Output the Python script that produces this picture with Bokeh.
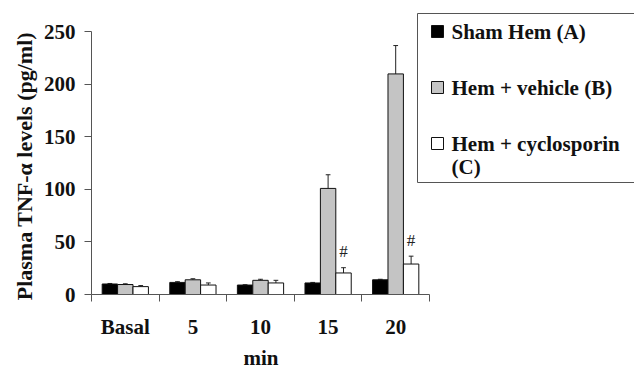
from bokeh.plotting import figure
from bokeh.models import Range1d, FixedTicker, Title
from bokeh.core.properties import value
from bokeh.embed import file_html
from bokeh.resources import INLINE

categories = ["Basal", "5", "10", "15", "20"]
sham = [10, 11.5, 9, 11, 14]
sham_err = [0.5, 0.7, 0.3, 0.5, 0.5]
vehicle = [9.5, 14, 13.5, 101, 210]
vehicle_err = [0.7, 1, 1, 13, 27]
cyclo = [7.5, 9, 11, 20.5, 29]
cyclo_err = [1, 2, 2.5, 5, 7.5]
signif = ["", "", "", "#", "#"]
series_names = ["Sham Hem (A)", "Hem + vehicle (B)", "Hem + cyclosporin"]
series_colors = ["#000000", "#c4c4c4", "#ffffff"]
y_ticks = [0, 50, 100, 150, 200, 250]
x_title = "min"
y_title = "Plasma TNF-α  levels (pg/ml)"

FONT = value("Liberation Serif")
W, H = 634, 371
frame_l, frame_t, frame_b = 91, 0, 294
px_per_cat = 67.6
px_per_unit = 262.6 / 250
x_end = (W - frame_l) / px_per_cat
y_end = (frame_b - frame_t) / px_per_unit

p = figure(width=W, height=H, output_backend="svg", toolbar_location=None,
           x_range=Range1d(0, x_end), y_range=Range1d(0, y_end),
           min_border_left=frame_l, min_border_right=0, min_border_top=0,
           min_border_bottom=H - frame_b)
p.outline_line_color = None
p.grid.visible = False
p.background_fill_color = "white"

# page pixel -> data coordinate helpers (layout only)
to_x = lambda px: (px - frame_l) / px_per_cat
to_y = lambda py: (frame_b - py) / px_per_unit

n = len(categories)
centers = [i + 0.5 for i in range(n)]
bw = 0.228
for k, (vals, errs, col) in enumerate(zip([sham, vehicle, cyclo],
                                          [sham_err, vehicle_err, cyclo_err],
                                          series_colors)):
    xs = [c + (k - 1) * bw for c in centers]
    tops = [v + e for v, e in zip(vals, errs)]
    p.segment(x0=xs, y0=vals, x1=xs, y1=tops, line_color="#222222", line_width=1)
    p.segment(x0=[x - 0.035 for x in xs], y0=tops, x1=[x + 0.035 for x in xs], y1=tops,
              line_color="#222222", line_width=1)
    p.vbar(x=xs, top=vals, bottom=0, width=bw, fill_color=col,
           line_color="#111111", line_width=1)

# significance marks
sx = [c + bw for c in centers]
sy = [v + e + 6 for v, e in zip(cyclo, cyclo_err)]
p.text(x=sx, y=sy, text=signif, text_font=FONT, text_font_size="17px",
       text_align="center", text_baseline="bottom", text_color="#222222")

# axes
p.xaxis.bounds = (0, n)
p.xaxis.ticker = FixedTicker(ticks=centers, minor_ticks=list(range(n + 1)))
p.xaxis.major_label_overrides = {c: lab for c, lab in zip(centers, categories)}
p.xaxis.major_tick_line_color = None
p.xaxis.minor_tick_line_color = "#555555"
p.xaxis.minor_tick_out = 7
p.xaxis.minor_tick_in = 0
p.xaxis.axis_line_color = "#555555"
p.xaxis.major_label_standoff = 13

p.yaxis.bounds = (0, 250)
p.yaxis.ticker = FixedTicker(ticks=y_ticks, minor_ticks=[])
p.yaxis.major_tick_out = 7
p.yaxis.major_tick_in = 0
p.yaxis.major_tick_line_color = "#555555"
p.yaxis.axis_line_color = "#555555"
p.yaxis.major_label_standoff = 9

for ax in [p.xaxis, p.yaxis]:
    ax.major_label_text_font = "Liberation Serif"
    ax.major_label_text_font_style = "bold"
    ax.major_label_text_font_size = "21px"
    ax.major_label_text_color = "#111111"
p.yaxis.major_label_orientation = "horizontal"

# axis titles as side-panel titles (not clipped), positioned over the axis extents
p.add_layout(Title(text=x_title, align="left", offset=152, standoff=4,
                   text_font="Liberation Serif", text_font_style="bold",
                   text_font_size="21px", text_color="#111111"), "below")
p.add_layout(Title(text=y_title, align="right", offset=26, standoff=8,
                   text_font="Liberation Serif", text_font_style="bold",
                   text_font_size="22px", text_color="#111111"), "left")

# legend box (clipped at the right edge like the reference)
p.quad(left=[to_x(417)], right=[to_x(700)], top=[to_y(13)], bottom=[to_y(182)],
       fill_color=None, line_color="#555555", line_width=1)
leg_y = [to_y(31), to_y(87), to_y(143)]
p.scatter(x=[to_x(437)] * 3, y=leg_y, marker="square", size=12,
          fill_color=series_colors, line_color="#111111", line_width=1)
p.text(x=[to_x(451)] * 3, y=leg_y, text=series_names, text_font=FONT,
       text_font_style="bold", text_font_size="21px", text_baseline="middle",
       text_color="#111111")
p.text(x=[to_x(451)], y=[to_y(166)], text=["(C)"], text_font=FONT,
       text_font_style="bold", text_font_size="21px", text_baseline="middle",
       text_color="#111111")

open("out.html", "w").write(file_html(p, INLINE))
